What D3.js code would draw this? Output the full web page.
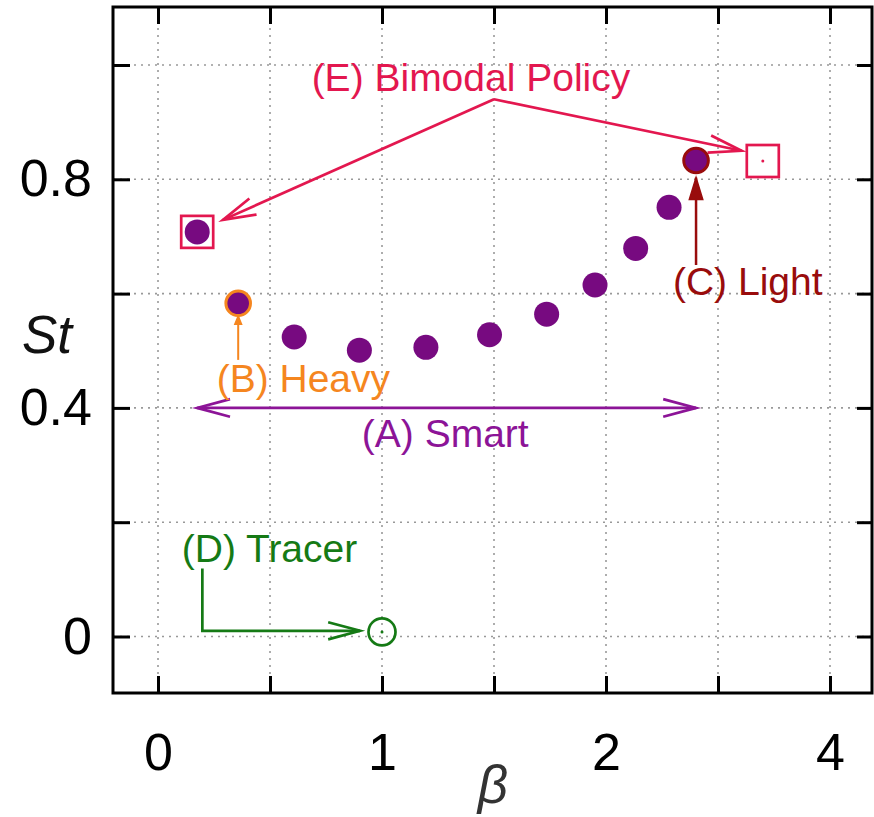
<!DOCTYPE html>
<html>
<head>
<meta charset="utf-8">
<script src="https://cdn.jsdelivr.net/npm/d3@7"></script>
<style>
  html, body { margin: 0; padding: 0; background: #fff; }
  svg { display: block; }
  text { font-family: "Liberation Sans", Arial, sans-serif; }
</style>
</head>
<body>
<svg id="chart" width="874" height="817"></svg>
<script>
// Smart-particle sweep over beta
const smartBeta = [0.175, 0.358, 0.608, 0.899, 1.196, 1.48, 1.735, 1.951, 2.265, 2.563, 2.804];
const smartSt   = [0.708, 0.583, 0.524, 0.501, 0.506, 0.528, 0.564, 0.615, 0.679, 0.751, 0.833];
const heavyIndex = 1;
const lightIndex = 10;

// Bimodal policy points (open squares)
const bimodalBeta = [0.175, 3.4];
const bimodalSt   = [0.708, 0.832];

// Tracer point (open circle)
const tracerBeta = [1.0];
const tracerSt   = [0.008];

// Axis ticks
const xTickValues = [0, 0.5, 1, 1.5, 2, 3, 4];
const xTickLabels = ["0", "", "1", "", "2", "", "4"];
const yTickValues = [0, 0.2, 0.4, 0.6, 0.8, 1.0];
const yTickLabels = ["0", "", "0.4", "", "0.8", ""];

// Annotation labels
const labelTexts = ["(A) Smart", "(B) Heavy", "(C) Light", "(D) Tracer", "(E) Bimodal Policy"];

const colors = {
  dot: "#770a80",
  smart: "#8c1497",
  heavy: "#f5861f",
  light: "#990c0c",
  tracer: "#157a15",
  bimodal: "#e3174f",
  grid: "#999999"
};

const svg = d3.select("#chart");
const box = { left: 113, right: 872, top: 7, bottom: 693 };

// beta axis is compressed beyond 2 (ticks at 2 and 4 are one cell apart)
const x = d3.scaleLinear().domain([0, 2, 4]).range([158, 606, 830]);
const y = d3.scaleLinear().domain([0, 1]).range([636.5, 65]);

// Grid
const grid = svg.append("g").attr("stroke", colors.grid).attr("stroke-width", 1.6)
  .attr("stroke-dasharray", "2,5");
grid.selectAll("line.v").data(xTickValues).join("line").attr("class", "v")
  .attr("x1", d => x(d)).attr("x2", d => x(d))
  .attr("y1", box.top).attr("y2", box.bottom);
grid.selectAll("line.h").data(yTickValues).join("line").attr("class", "h")
  .attr("x1", box.left).attr("x2", box.right)
  .attr("y1", d => y(d)).attr("y2", d => y(d));

// Axes (ticks point inward on all four sides)
function styleAxis(g) {
  g.select(".domain").remove();
  g.selectAll(".tick line").attr("stroke", "#000").attr("stroke-width", 3);
  g.selectAll(".tick text").attr("fill", "#000").attr("font-size", 52);
}
svg.append("g").attr("transform", `translate(0,${box.bottom})`)
  .call(d3.axisBottom(x).tickValues(xTickValues).tickSizeInner(-17).tickSizeOuter(0)
    .tickPadding(40).tickFormat((d, i) => xTickLabels[i]))
  .call(styleAxis);
svg.append("g").attr("transform", `translate(0,${box.top})`)
  .call(d3.axisTop(x).tickValues(xTickValues).tickSizeInner(-17).tickSizeOuter(0).tickFormat(""))
  .call(styleAxis);
svg.append("g").attr("transform", `translate(${box.left},0)`)
  .call(d3.axisLeft(y).tickValues(yTickValues).tickSizeInner(-17).tickSizeOuter(0)
    .tickPadding(21).tickFormat((d, i) => yTickLabels[i]))
  .call(styleAxis);
svg.append("g").attr("transform", `translate(${box.right},0)`)
  .call(d3.axisRight(y).tickValues(yTickValues).tickSizeInner(-15).tickSizeOuter(0).tickFormat(""))
  .call(styleAxis);

// Frame
svg.append("rect").attr("x", box.left).attr("y", box.top)
  .attr("width", box.right - box.left).attr("height", box.bottom - box.top)
  .attr("fill", "none").attr("stroke", "#000").attr("stroke-width", 3);

// Axis titles
svg.append("text").attr("x", 22).attr("y", 353).attr("font-size", 53)
  .attr("font-style", "italic").attr("fill", "#111").text("St");
svg.append("text").attr("x", 493).attr("y", 803).attr("font-size", 53)
  .attr("font-style", "italic").attr("text-anchor", "middle").attr("fill", "#333").text("β");

// Arrow helper: polyline through data points, head at the last point
function arrow(pts, color, opt) {
  const p = pts.map(d => [x(d[0]), y(d[1])]);
  const g = svg.append("g");
  g.append("path").attr("d", d3.line()(p)).attr("fill", "none")
    .attr("stroke", color).attr("stroke-width", opt.width || 2.7);
  const heads = [[p[p.length - 1], p[p.length - 2]]];
  if (opt.both) heads.push([p[0], p[1]]);
  heads.forEach(([tip, from]) => {
    const a = Math.atan2(from[1] - tip[1], from[0] - tip[0]);
    const L = opt.len, t = opt.angle * Math.PI / 180;
    const b1 = [tip[0] + L * Math.cos(a + t), tip[1] + L * Math.sin(a + t)];
    const b2 = [tip[0] + L * Math.cos(a - t), tip[1] + L * Math.sin(a - t)];
    if (opt.filled) {
      g.append("path").attr("d", d3.line()([b1, tip, b2]) + "Z")
        .attr("fill", color).attr("stroke", color).attr("stroke-width", 1.5);
    } else {
      g.append("path").attr("d", d3.line()([b1, tip, b2])).attr("fill", "none")
        .attr("stroke", color).attr("stroke-width", opt.width || 2.7)
        .attr("stroke-linejoin", "miter");
    }
  });
}

function label(text, bx, st, color, anchor) {
  svg.append("text").attr("x", x(bx)).attr("y", y(st)).attr("font-size", 39)
    .attr("text-anchor", anchor || "start").attr("fill", color).text(text);
}

// (E) Bimodal policy
const eApex = [1.5, 0.94];
arrow([eApex, [0.29, 0.729]], colors.bimodal, { len: 34, angle: 15 });
arrow([eApex, [3.21, 0.85]], colors.bimodal, { len: 34, angle: 15 });
label(labelTexts[4], 1.397, 0.955, colors.bimodal, "middle");

// (A) Smart: range of the sweep
arrow([[smartBeta[0], 0.4], [smartBeta[smartBeta.length - 1], 0.4]], colors.smart,
  { len: 34, angle: 15, both: true });
label(labelTexts[0], 0.91, 0.332, colors.smart);

// (B) Heavy
arrow([[smartBeta[heavyIndex], 0.484], [smartBeta[heavyIndex], 0.561]], colors.heavy,
  { len: 9, angle: 22, filled: true, width: 2 });
label(labelTexts[1], 0.262, 0.428, colors.heavy);

// (C) Light
arrow([[smartBeta[lightIndex], 0.65], [smartBeta[lightIndex], 0.803]], colors.light,
  { len: 23, angle: 17, filled: true, width: 2.5 });
label(labelTexts[2], 2.598, 0.598, colors.light);

// (D) Tracer
arrow([[0.198, 0.119], [0.198, 0.010], [0.902, 0.010]], colors.tracer, { len: 33, angle: 15 });
label(labelTexts[3], 0.106, 0.130, colors.tracer);

// Bimodal squares
const sq = 32;
svg.append("g").selectAll("rect").data(bimodalBeta).join("rect")
  .attr("x", (d) => x(d) - sq / 2).attr("y", (d, i) => y(bimodalSt[i]) - sq / 2)
  .attr("width", sq).attr("height", sq)
  .attr("fill", "none").attr("stroke", colors.bimodal).attr("stroke-width", 2.7);
svg.append("circle").attr("cx", x(bimodalBeta[1])).attr("cy", y(bimodalSt[1]))
  .attr("r", 1.5).attr("fill", colors.bimodal);

// Tracer marker
svg.append("g").selectAll("circle").data(tracerBeta).join("circle")
  .attr("cx", d => x(d)).attr("cy", (d, i) => y(tracerSt[i])).attr("r", 13.5)
  .attr("fill", "none").attr("stroke", colors.tracer).attr("stroke-width", 2.7);
svg.append("circle").attr("cx", x(tracerBeta[0])).attr("cy", y(tracerSt[0]))
  .attr("r", 1.5).attr("fill", colors.tracer);

// Smart dots
svg.append("g").selectAll("circle").data(smartBeta).join("circle")
  .attr("cx", d => x(d)).attr("cy", (d, i) => y(smartSt[i]))
  .attr("r", (d, i) => (i === heavyIndex || i === lightIndex) ? 12.3 : 12.5)
  .attr("fill", colors.dot)
  .attr("stroke", (d, i) => i === heavyIndex ? colors.heavy : i === lightIndex ? colors.light : "none")
  .attr("stroke-width", 3);
</script>
</body>
</html>
